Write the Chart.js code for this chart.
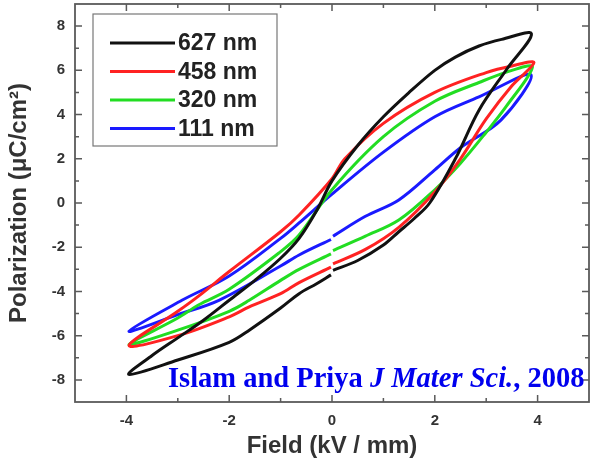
<!DOCTYPE html>
<html><head><meta charset="utf-8">
<script src="https://cdn.jsdelivr.net/npm/chart.js@4.4.1/dist/chart.umd.min.js"></script>
<style>
html,body{margin:0;padding:0;background:#fff;}
#wrap{position:relative;width:596px;height:466px;}
#note{position:absolute;left:168px;top:364px;font:bold 28.5px "Liberation Serif","Times New Roman",serif;line-height:28px;color:#0000ee;white-space:nowrap;}
</style></head>
<body>
<div id="wrap">
<canvas id="c" width="596" height="466"></canvas>
<div id="note">Islam and Priya <i>J Mater Sci.</i>, 2008</div>
</div>
<script>
// Tick labels
const xTicks = [-4, -2, 0, 2, 4];
const yTicks = [-8, -6, -4, -2, 0, 2, 4, 6, 8];
const xMinor = [-3, -1, 1, 3];
const yMinor = [-7, -5, -3, -1, 1, 3, 5, 7];
const seriesNames = ['627 nm', '458 nm', '320 nm', '111 nm'];
const seriesColors = ['#111111', '#ff2222', '#22dd22', '#1a1aff'];

// 627 nm loop: lower branch from 0 to +Emax, upper branch to -Emax, lower branch back to 0
const E627 = [0.02, 0.5, 1.0, 1.3, 1.6, 1.9, 2.4, 2.86, 3.4, 3.88, 3.3, 2.86, 2.4, 2.0, 1.5, 1.0, 0.5, 0.0, -0.3, -0.64, -1.0, -1.5, -2.0, -2.5, -3.0, -3.5, -3.95, -3.0, -2.0, -1.61, -1.0, -0.64, -0.3, -0.02];
const P627 = [-3.05, -2.6, -1.9, -1.3, -0.7, 0.0, 2.0, 4.2, 6.05, 7.65, 7.4, 7.1, 6.6, 6.0, 5.0, 3.9, 2.6, 1.0, -0.35, -1.6, -2.5, -3.5, -4.4, -5.3, -6.1, -6.9, -7.75, -7.1, -6.3, -5.75, -4.75, -4.1, -3.65, -3.25];
// 458 nm
const E458 = [0.02, 0.65, 1.3, 2.0, 2.5, 3.0, 3.5, 3.93, 3.5, 3.0, 2.0, 1.0, 0.25, 0.0, -0.64, -1.0, -2.0, -2.59, -3.0, -3.95, -3.0, -2.0, -1.61, -1.0, -0.64, -0.02];
const P458 = [-2.75, -2.1, -1.1, 0.5, 2.0, 3.8, 5.3, 6.35, 6.2, 5.9, 5.0, 3.6, 2.0, 1.1, -0.54, -1.3, -3.1, -4.2, -4.9, -6.45, -6.0, -5.15, -4.7, -4.1, -3.6, -2.9];
// 320 nm
const E320 = [0.02, 0.65, 1.3, 2.0, 2.5, 3.0, 3.4, 3.9, 3.5, 2.86, 2.0, 1.0, 0.0, -0.64, -1.0, -2.0, -2.59, -3.0, -3.95, -3.0, -2.0, -1.61, -1.0, -0.64, -0.02];
const P320 = [-2.15, -1.5, -0.77, 0.6, 1.8, 3.2, 4.4, 6.15, 6.0, 5.45, 4.6, 3.0, 0.6, -1.45, -2.2, -3.9, -4.6, -5.2, -6.4, -5.75, -4.9, -4.4, -3.5, -3.0, -2.3];
// 111 nm
const E111 = [0.02, 0.65, 1.3, 2.0, 2.5, 3.29, 3.87, 2.86, 2.0, 1.0, 0.0, -0.64, -1.0, -2.0, -2.92, -3.95, -3.0, -2.2, -1.0, -0.64, -0.02];
const P111 = [-1.5, -0.6, 0.14, 1.5, 2.5, 3.76, 5.8, 4.8, 3.9, 2.3, 0.4, -0.9, -1.6, -3.3, -4.4, -5.8, -5.05, -4.4, -2.85, -2.35, -1.65];

const loops = [[E627, P627], [E458, P458], [E320, P320], [E111, P111]];
const toPts = (xs, ys) => xs.map((v, i) => ({x: v, y: ys[i]}));
const FONT = '"Liberation Sans", Arial, sans-serif';

const framePlugin = {
  id: 'frame',
  afterDraw(chart) {
    const {ctx, chartArea: a, scales: {x, y}} = chart;
    ctx.save();
    ctx.strokeStyle = '#5a5a5a';
    ctx.lineWidth = 1.8;
    ctx.strokeRect(a.left, a.top, a.right - a.left, a.bottom - a.top);
    ctx.lineWidth = 1.5;
    const tick = (vals, len) => {
      vals.forEach(v => {
        const px = x.getPixelForValue(v);
        ctx.beginPath();
        ctx.moveTo(px, a.bottom); ctx.lineTo(px, a.bottom - len);
        ctx.moveTo(px, a.top); ctx.lineTo(px, a.top + len);
        ctx.stroke();
      });
    };
    const ytick = (vals, len) => {
      vals.forEach(v => {
        const py = y.getPixelForValue(v);
        ctx.beginPath();
        ctx.moveTo(a.left, py); ctx.lineTo(a.left + len, py);
        ctx.moveTo(a.right, py); ctx.lineTo(a.right - len, py);
        ctx.stroke();
      });
    };
    tick(xTicks, 7); tick(xMinor, 4);
    ytick(yTicks, 7); ytick(yMinor, 4);
    ctx.restore();
  }
};

const legendPlugin = {
  id: 'boxlegend',
  afterDatasetsDraw(chart) {
    const {ctx} = chart;
    ctx.save();
    ctx.fillStyle = '#fff';
    ctx.fillRect(93, 14, 184, 132);
    ctx.strokeStyle = '#777';
    ctx.lineWidth = 1.2;
    ctx.strokeRect(93, 14, 184, 132);
    ctx.font = 'bold 23px ' + FONT;
    ctx.textBaseline = 'middle';
    seriesNames.forEach((n, i) => {
      const yy = 43 + i * 28.5;
      ctx.strokeStyle = seriesColors[i];
      ctx.lineWidth = 3;
      ctx.beginPath(); ctx.moveTo(110, yy); ctx.lineTo(175, yy); ctx.stroke();
      ctx.fillStyle = '#222';
      ctx.fillText(n, 178, yy + 1);
    });
    ctx.restore();
  }
};

new Chart(document.getElementById('c'), {
  type: 'scatter',
  data: {
    datasets: loops.map((l, i) => ({
      label: seriesNames[i],
      data: toPts(l[0], l[1]),
      showLine: true,
      borderColor: seriesColors[i],
      borderWidth: 3,
      pointRadius: 0,
      tension: 0.35,
      fill: false
    }))
  },
  options: {
    responsive: false,
    animation: false,
    layout: {padding: {top: 4, right: 7, left: 0, bottom: 0}},
    plugins: {legend: {display: false}, tooltip: {enabled: false}},
    scales: {
      x: {
        type: 'linear', min: -5, max: 5,
        afterBuildTicks: s => { s.ticks = xTicks.map(v => ({value: v})); },
        afterFit: s => { s.height = 64; s.paddingLeft = 0; s.paddingRight = 0; },
        grid: {display: false, drawTicks: false},
        border: {display: false},
        ticks: {padding: 10, color: '#333', font: {family: FONT, size: 15, weight: 'bold'}},
        title: {display: true, text: 'Field (kV / mm)', color: '#333', padding: {top: 0, bottom: 5}, font: {family: FONT, size: 24, weight: 'bold'}}
      },
      y: {
        type: 'linear', min: -9, max: 9,
        afterBuildTicks: s => { s.ticks = yTicks.map(v => ({value: v})); },
        afterFit: s => { s.width = 75; s.paddingTop = 0; s.paddingBottom = 0; },
        grid: {display: false, drawTicks: false},
        border: {display: false},
        ticks: {padding: 10, color: '#333', font: {family: FONT, size: 15, weight: 'bold'}},
        title: {display: true, text: 'Polarization (μC/cm²)', color: '#333', padding: {top: 5, bottom: 0}, font: {family: FONT, size: 24, weight: 'bold'}}
      }
    }
  },
  plugins: [framePlugin, legendPlugin]
});
</script>
</body></html>
